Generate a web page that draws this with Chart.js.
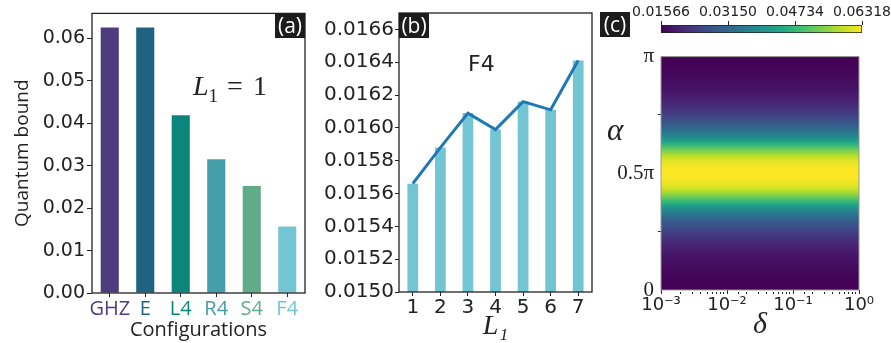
<!DOCTYPE html>
<html lang="en">
<head>
<meta charset="UTF-8">
<title>Quantum bound</title>
<script src="https://cdn.jsdelivr.net/npm/chart.js@4.4.1/dist/chart.umd.min.js"></script>
<style>
  body { margin: 0; background: #fff; }
  #wrap { position: relative; width: 891px; height: 343px; overflow: hidden; }
  canvas { position: absolute; }
  .tag { position: absolute; width: 30px; height: 25px; line-height: 24px; text-align: center;
         background: #1c1c1c; color: #fff; font-family: 'Open Sans', sans-serif; font-size: 21px; }
  .note { position: absolute; color: #222; white-space: nowrap; }
  .serif { font-family: 'Liberation Serif', serif; }
</style>
<script>
// panel (a): bound for each configuration at L1 = 1
var configs = ['GHZ', 'E', 'L4', 'R4', 'S4', 'F4'];
var boundL1 = [0.0626, 0.0626, 0.0419, 0.0315, 0.0252, 0.0157];
var configColors = ['#4e3d7e', '#1e6482', '#0c857d', '#449eaa', '#60ac8a', '#74c5d3'];
var ticksA = [0, 0.01, 0.02, 0.03, 0.04, 0.05, 0.06];

// panel (b): F4 bound against L1
var l1Labels = ['1', '2', '3', '4', '5', '6', '7'];
var boundF4 = [0.01566, 0.01588, 0.01609, 0.01599, 0.01616, 0.01611, 0.01641];
var ticksB = [0.0150, 0.0152, 0.0154, 0.0156, 0.0158, 0.0160, 0.0162, 0.0164, 0.0166];

// panel (c): bound over alpha (degrees), flat along delta
var alphaDeg = [0, 3, 6, 9, 12, 15, 18, 21, 24, 27, 30, 33, 36, 39, 42, 45, 48, 51, 54, 57,
  60, 63, 66, 69, 72, 75, 78, 81, 84, 87, 90, 93, 96, 99, 102, 105, 108, 111, 114, 117,
  120, 123, 126, 129, 132, 135, 138, 141, 144, 147, 150, 153, 156, 159, 162, 165, 168, 171, 174, 177, 180];
var boundAlpha = [0.01566, 0.01576, 0.01595, 0.01614, 0.01637, 0.01671, 0.01709, 0.01747, 0.01794, 0.01851,
  0.01922, 0.01994, 0.02089, 0.02184, 0.02326, 0.02469, 0.02659, 0.02849, 0.03039, 0.03324,
  0.03609, 0.03942, 0.04370, 0.04845, 0.05273, 0.05653, 0.05938, 0.06128, 0.06242, 0.06299,
  0.06318,
  0.06299, 0.06242, 0.06128, 0.05938, 0.05653, 0.05273, 0.04845, 0.04370, 0.03942, 0.03609,
  0.03324, 0.03039, 0.02849, 0.02659, 0.02469, 0.02326, 0.02184, 0.02089, 0.01994, 0.01922,
  0.01851, 0.01794, 0.01747, 0.01709, 0.01671, 0.01637, 0.01614, 0.01595, 0.01576, 0.01566];
var deltaRange = [0.001, 1];
var deltaTickVals = [0.001, 0.01, 0.1, 1];
var deltaTickLabels = ['10\u207B\u00B3', '10\u207B\u00B2', '10\u207B\u00B9', '10\u2070'];
var alphaTickVals = [0, 90, 180];
var alphaTickLabels = ['0', '0.5\u03C0', '\u03C0'];
var cbarTicks = [0.01566, 0.03150, 0.04734, 0.06318];

var viridis = ['#440154', '#482475', '#414487', '#355f8d', '#2a788e', '#21918c',
               '#22a884', '#44bf70', '#7ad151', '#bddf26', '#fde725'];

function hexRgb(h) {
  return [parseInt(h.substr(1, 2), 16), parseInt(h.substr(3, 2), 16), parseInt(h.substr(5, 2), 16)];
}

function viridisColor(v) {
  var lo = cbarTicks[0], hi = cbarTicks[cbarTicks.length - 1];
  var t = Math.max(0, Math.min(1, (v - lo) / (hi - lo))) * (viridis.length - 1);
  var i = Math.min(Math.floor(t), viridis.length - 2);
  var f = t - i;
  var a = hexRgb(viridis[i]), b = hexRgb(viridis[i + 1]);
  var c = a.map(function(x, k) { return Math.round(x + (b[k] - x) * f); });
  return 'rgb(' + c.join(',') + ')';
}

// shared vertical gradient through every alpha row, so the rows blend like imshow
function heatFill(c) {
  var chart = c.chart, a = chart.chartArea, ys = chart.scales.y;
  if (!a || !ys) return viridisColor(boundAlpha[c.dataIndex || 0]);
  var g = chart.ctx.createLinearGradient(0, a.bottom, 0, a.top);
  var span = a.bottom - a.top;
  alphaDeg.forEach(function(al, i) {
    var off = (a.bottom - ys.getPixelForValue(al)) / span;
    g.addColorStop(Math.max(0, Math.min(1, off)), viridisColor(boundAlpha[i]));
  });
  return g;
}

function alphaTickColor(c) {
  if (!c.tick) return '#222';
  return alphaTickVals.indexOf(c.tick.value) >= 0 ? '#222' : 'rgba(0,0,0,0)';
}

function isDeltaMajor(c) {
  return !!c.tick && deltaTickVals.indexOf(c.tick.value) >= 0;
}

// black (or grey) box round the plot area
var framePlugin = {
  id: 'frame',
  afterDraw: function(chart, args, opts) {
    var a = chart.chartArea, ctx = chart.ctx;
    ctx.save();
    ctx.strokeStyle = opts.color || '#222';
    ctx.lineWidth = opts.width || 1;
    ctx.strokeRect(a.left, a.top, a.right - a.left, a.bottom - a.top);
    ctx.restore();
  }
};

function fixTicks(list) {
  return function(scale) { scale.ticks = list.map(function(v) { return { value: v }; }); };
}
</script>
</head>
<body>
<div id="wrap">
  <canvas id="chartA" width="312" height="343" style="left:0;top:0"></canvas>
  <canvas id="chartB" width="285" height="343" style="left:312px;top:0"></canvas>
  <canvas id="chartCbar" width="294" height="40" style="left:597px;top:0"></canvas>
  <canvas id="chartC" width="294" height="303" style="left:597px;top:40px"></canvas>

  <div class="tag" style="left:275px;top:13px">(a)</div>
  <div class="tag" style="left:399px;top:13px">(b)</div>
  <div class="tag" style="left:600px;top:12px">(c)</div>

  <div class="note serif" style="left:193px;top:70px;font-size:28px"><i>L</i><sub style="font-size:19px">1</sub><span style="margin:0 10px 0 9px">=</span>1</div>
  <div class="note" style="left:468px;top:51px;font-family:'DejaVu Sans';font-size:22px">F4</div>
  <div class="note serif" style="left:607px;top:112px;font-size:31px"><i>&alpha;</i></div>
</div>
<script>
Chart.defaults.animation = false;
Chart.defaults.color = '#222';

new Chart(document.getElementById('chartA'), {
  type: 'bar',
  data: {
    labels: configs,
    datasets: [{ data: boundL1, backgroundColor: configColors, barPercentage: 0.51, categoryPercentage: 1 }]
  },
  options: {
    responsive: false,
    layout: { padding: { top: 13, right: 7, left: 0, bottom: 0 } },
    plugins: { legend: { display: false }, tooltip: { enabled: false }, frame: { color: '#222', width: 1.3 } },
    scales: {
      x: {
        grid: { offset: false, drawOnChartArea: false, tickLength: 4, color: '#222' },
        border: { display: false },
        ticks: {
          color: function(c) { return configColors[c.index]; },
          font: { family: 'Open Sans', size: 20 }, padding: 0, maxRotation: 0, autoSkip: false
        },
        title: { display: true, text: 'Configurations', font: { family: 'Open Sans', size: 20 }, padding: { top: 0, bottom: 1 } },
        afterFit: function(s) { s.height = 50; }
      },
      y: {
        min: 0, max: 0.0659,
        afterBuildTicks: fixTicks(ticksA),
        grid: { drawOnChartArea: false, tickLength: 5, color: '#222' },
        border: { display: false },
        ticks: { callback: function(v) { return v.toFixed(2); }, font: { family: 'DejaVu Sans', size: 19 }, padding: 2 },
        title: { display: true, text: 'Quantum bound', font: { family: 'Open Sans', size: 19 }, padding: { top: 11, bottom: 0 } },
        afterFit: function(s) { s.width = 92; }
      }
    }
  },
  plugins: [framePlugin]
});

new Chart(document.getElementById('chartB'), {
  type: 'bar',
  data: {
    labels: l1Labels,
    datasets: [
      { type: 'line', data: boundF4, borderColor: '#1f77b4', borderWidth: 3, pointRadius: 0, order: 0 },
      { data: boundF4, backgroundColor: '#74c5d3', barPercentage: 0.39, categoryPercentage: 1, order: 1 }
    ]
  },
  options: {
    responsive: false,
    layout: { padding: { top: 13, right: 5, left: 0, bottom: 0 } },
    plugins: { legend: { display: false }, tooltip: { enabled: false }, frame: { color: '#222', width: 1.3 } },
    scales: {
      x: {
        grid: { offset: false, drawOnChartArea: false, tickLength: 4, color: '#222' },
        border: { display: false },
        ticks: { font: { family: 'DejaVu Sans', size: 20 }, padding: 0, maxRotation: 0 },
        title: { display: true, text: 'L\u2081', font: { family: 'Liberation Serif', size: 28, style: 'italic' }, padding: { top: 0, bottom: 0 } },
        afterFit: function(s) { s.height = 51; }
      },
      y: {
        min: 0.0150, max: 0.01670,
        afterBuildTicks: fixTicks(ticksB),
        grid: { drawOnChartArea: false, tickLength: 4, color: '#222' },
        border: { display: false },
        ticks: { callback: function(v) { return v.toFixed(4); }, font: { family: 'DejaVu Sans', size: 20 }, padding: 1 },
        afterFit: function(s) { s.width = 87; }
      }
    }
  },
  plugins: [framePlugin]
});

new Chart(document.getElementById('chartCbar'), {
  type: 'bar',
  data: {
    labels: ['bound'],
    datasets: [{
      data: [[cbarTicks[0], cbarTicks[cbarTicks.length - 1]]],
      backgroundColor: function(c) {
        var a = c.chart.chartArea;
        if (!a) return viridis[0];
        var g = c.chart.ctx.createLinearGradient(a.left, 0, a.right, 0);
        viridis.forEach(function(col, i) { g.addColorStop(i / (viridis.length - 1), col); });
        return g;
      },
      borderColor: '#222', borderWidth: 1, borderSkipped: false,
      barPercentage: 1, categoryPercentage: 1
    }]
  },
  options: {
    responsive: false,
    indexAxis: 'y',
    layout: { padding: { top: 0, right: 29, left: 64, bottom: 7 } },
    plugins: { legend: { display: false }, tooltip: { enabled: false } },
    scales: {
      x: {
        type: 'linear', position: 'top',
        min: cbarTicks[0], max: cbarTicks[cbarTicks.length - 1],
        afterBuildTicks: fixTicks(cbarTicks),
        grid: { drawOnChartArea: false, tickLength: 4, color: '#222' },
        border: { display: false },
        ticks: { callback: function(v) { return v.toFixed(5); }, font: { family: 'DejaVu Sans', size: 14 }, padding: 0, maxRotation: 0, autoSkip: false },
        afterFit: function(s) { s.height = 25; }
      },
      y: { display: false }
    }
  }
});

new Chart(document.getElementById('chartC'), {
  type: 'bar',
  data: {
    datasets: [{
      data: alphaDeg.map(function(a) { return { x: deltaRange.slice(), y: a }; }),
      backgroundColor: heatFill,
      borderWidth: 0, barPercentage: 1.3, categoryPercentage: 1, clip: 0
    }]
  },
  options: {
    responsive: false,
    indexAxis: 'y',
    layout: { padding: { top: 7, right: 32, left: 0, bottom: 0 } },
    plugins: { legend: { display: false }, tooltip: { enabled: false }, frame: { color: '#999', width: 1 } },
    scales: {
      x: {
        type: 'logarithmic', min: deltaRange[0], max: deltaRange[1],
        grid: {
          drawOnChartArea: false, tickLength: 4, color: '#222',
          tickBorderDash: function(c) { return isDeltaMajor(c) ? [] : [2, 2]; },
          tickBorderDashOffset: function(c) { return isDeltaMajor(c) ? 0 : 2; }
        },
        border: { display: false },
        ticks: {
          callback: function(v) { var i = deltaTickVals.indexOf(v); return i >= 0 ? deltaTickLabels[i] : ''; },
          font: { family: 'DejaVu Sans', size: 18 }, padding: 1, maxRotation: 0, autoSkip: false
        },
        title: { display: true, text: '\u03B4', font: { family: 'Liberation Serif', size: 30, style: 'italic' }, padding: { top: 0, bottom: 0 } },
        afterFit: function(s) { s.height = 53; }
      },
      y: {
        type: 'linear', min: 0, max: 180, offset: false,
        grid: { drawOnChartArea: false, tickLength: 3, color: alphaTickColor, tickColor: alphaTickColor },
        border: { display: false },
        ticks: {
          stepSize: 90,
          callback: function(v) { var i = alphaTickVals.indexOf(v); return i >= 0 ? alphaTickLabels[i] : null; },
          font: { family: 'Liberation Serif', size: 21 }, padding: 4
        },
        afterFit: function(s) { s.width = 64; }
      }
    }
  },
  plugins: [framePlugin]
});
</script>
</body>
</html>
